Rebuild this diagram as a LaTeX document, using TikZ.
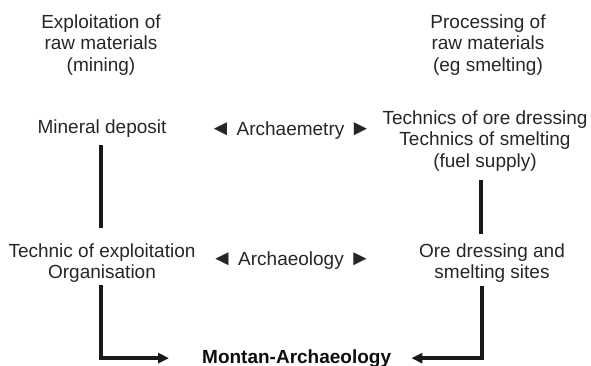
\documentclass[tikz,border=0pt]{standalone}
\usepackage{fontspec}
\setmainfont{Liberation Sans}
\usetikzlibrary{arrows.meta,calc}
\newcommand{\tl}{{\fontsize{22}{21.7}\selectfont ◄}}
\newcommand{\tr}{{\fontsize{22}{21.7}\selectfont ►}}
\begin{document}
\begin{tikzpicture}[x=1pt,y=-1pt,
  lbl/.style={inner sep=0pt, align=center, text=black!85, font=\fontsize{19}{21.7}\selectfont},
  conn/.style={line width=3.3pt, draw=black!90},
  arr/.style={conn, line join=miter, -{Triangle[length=11pt,width=10pt]}}]
\useasboundingbox (0,0) rectangle (591,365);
% headings
\node[lbl, anchor=north] (exploit) at (101,14.2) {Exploitation of\\raw materials\\(mining)};
\node[lbl, anchor=north] (process) at (488,14.2) {Processing of\\raw materials\\(eg smelting)};
% row 1
\node[lbl, anchor=base] (mineral) at (102,133) {Mineral deposit};
\node[lbl, anchor=base] (archmet) at (290.5,135) {\tl{} Archaemetry \tr};
\node[lbl, anchor=north] (technics) at (485,110.2) {Technics of ore dressing\\Technics of smelting\\(fuel supply)};
% row 2
\node[lbl, anchor=north] (techexp) at (102,243.2) {Technic of exploitation\\Organisation};
\node[lbl, anchor=base] (archeo) at (291,265) {\tl{} Archaeology \tr};
\node[lbl, anchor=north] (ore) at (492,243.1) {Ore dressing and\\smelting sites};
% bottom
\node[lbl, anchor=base west, font=\fontsize{19}{21.7}\selectfont\bfseries, text=black!95] (montan) at (202,363) {Montan-Archaeology};
% connectors
\draw[conn] ([xshift=-1pt,yshift=-8pt]mineral.south) -- ([xshift=-1pt,yshift=15pt]techexp.north);
\coordinate (r1) at ([xshift=-4pt,yshift=-8pt]technics.south);
\coordinate (r2) at ([yshift=9pt]ore.north);
\draw[conn] (r1) -- (r1 |- r2);
\draw[arr] ([xshift=-1pt,yshift=-2pt]techexp.south) |- ([xshift=-33pt]montan.west);
\draw[arr] ([xshift=-10pt,yshift=-3pt]ore.south) |- ([xshift=20pt]montan.east);
\end{tikzpicture}
\end{document}
